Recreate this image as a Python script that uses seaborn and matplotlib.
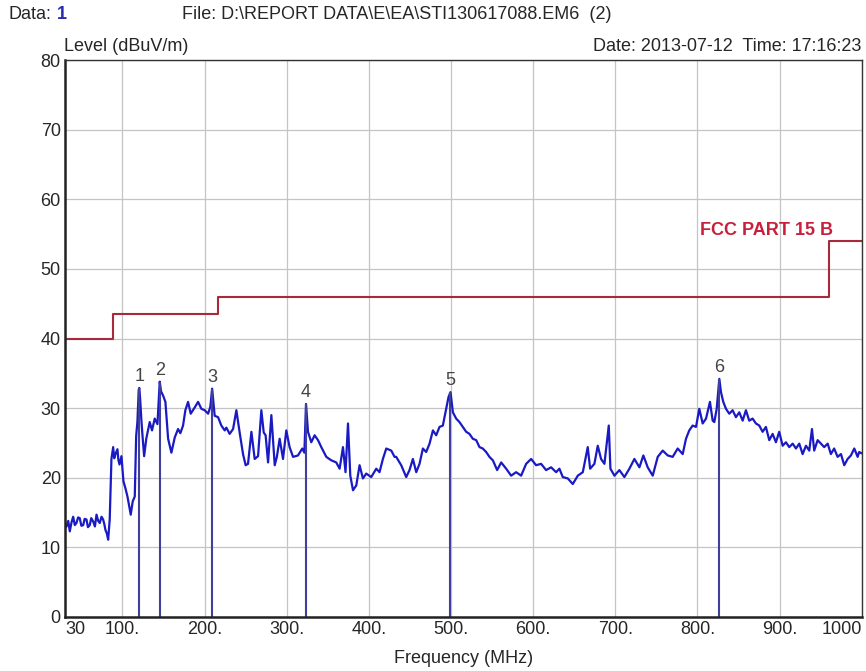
import matplotlib
matplotlib.use("Agg")
import matplotlib.pyplot as plt
import seaborn as sns
import pandas as pd

freq = [30.0, 31.9, 34.0, 35.9, 38.0, 40.0, 42.0, 44.0, 46.0, 48.0, 50.0, 52.2, 54.0, 56.2, 58.0,
        60.2, 62.0, 64.4, 66.5, 68.4, 70.5, 72.4, 74.5, 76.5, 78.0, 79.3, 81.0, 82.6, 84.5,
        86.6, 88.7, 90.0, 91.5, 93.9, 95.0, 96.4, 98.8, 101.2, 103.6, 106.1, 108.5, 110.1,
        112.5, 115.0, 116.7, 118.2, 119.8, 120.5, 121.5, 123.1, 124.7, 126.4, 129.0, 133.2,
        136.0, 139.3, 142.6, 145.4, 147.0, 149.5, 152.3, 155.6, 159.6, 163.7, 167.7, 170.5,
        173.8, 176.6, 179.9, 183.1, 188.0, 192.1, 196.1, 200.1, 204.3, 207.0, 209.2, 212.3,
        216.4, 220.4, 224.5, 226.5, 230.5, 234.7, 238.7, 242.7, 246.8, 250.0, 252.9, 257.0,
        261.0, 265.1, 269.1, 272.0, 274.3, 277.3, 281.3, 285.4, 288.0, 291.4, 295.5, 299.5,
        303.5, 307.7, 313.7, 319.0, 321.5, 323.5, 325.9, 329.9, 334.0, 338.1, 342.1, 348.2,
        354.3, 360.3, 364.4, 368.5, 371.6, 374.6, 377.4, 380.7, 384.7, 388.7, 392.8, 396.8,
        402.9, 409.0, 413.0, 417.1, 421.2, 427.3, 431.3, 433.3, 439.4, 445.5, 449.5, 453.6,
        457.7, 461.7, 465.8, 469.8, 473.9, 478.0, 482.0, 486.0, 490.1, 494.2, 497.0, 499.4,
        502.3, 506.3, 510.3, 514.4, 518.5, 522.5, 526.6, 530.7, 534.7, 538.7, 542.8, 546.8,
        551.0, 556.2, 561.1, 567.2, 573.2, 579.3, 585.4, 591.5, 597.6, 603.6, 609.7, 615.8,
        621.9, 628.0, 632.0, 636.1, 642.2, 648.3, 654.4, 660.5, 666.5, 669.4, 674.6, 678.7,
        682.7, 686.8, 692.1, 694.1, 699.0, 705.0, 711.1, 717.2, 723.3, 729.4, 734.2, 739.5,
        745.6, 751.7, 757.8, 763.9, 769.9, 776.0, 782.1, 786.1, 790.1, 794.2, 798.3, 802.3,
        806.4, 810.5, 815.3, 818.6, 820.6, 823.5, 826.7, 828.7, 831.5, 834.8, 838.8, 842.9,
        846.9, 851.0, 855.1, 859.1, 863.1, 867.2, 871.2, 875.3, 879.4, 883.4, 887.5, 891.6,
        895.6, 899.6, 903.8, 907.8, 911.8, 916.0, 920.0, 924.0, 928.1, 932.2, 936.2, 939.5,
        942.2, 946.4, 950.4, 954.4, 958.6, 962.5, 966.5, 970.7, 974.8, 978.8, 982.9, 986.9,
        991.0, 995.1, 997.0, 1000.0]
level = [12.8, 13.0, 13.8, 12.3, 13.6, 14.4, 13.2, 13.5, 14.3, 14.2, 13.1, 13.2, 14.1, 14.0, 12.9,
         13.2, 14.2, 13.7, 13.0, 14.7, 13.8, 13.5, 14.4, 14.0, 13.3, 12.5, 12.0, 11.1, 14.0,
         22.7, 24.4, 22.8, 23.4, 24.1, 22.6, 21.9, 23.1, 19.5, 18.5, 17.3, 15.7, 14.7,
         16.6, 17.3, 26.0, 28.0, 32.6, 32.9, 31.4, 28.2, 25.6, 23.1, 25.6, 28.0,
         26.8, 28.5, 27.7, 33.8, 32.4, 31.8, 30.9, 25.6, 23.6, 25.8, 27.0, 26.4,
         27.5, 29.7, 30.9, 29.2, 30.1, 30.9, 29.9, 29.7, 29.2, 30.2, 32.8, 28.9,
         28.7, 27.5, 26.8, 27.2, 26.3, 27.0, 29.7, 26.5, 23.4, 21.8, 22.0, 26.6,
         22.7, 23.1, 29.7, 26.5, 26.1, 22.2, 29.0, 21.8, 23.0, 25.6, 22.7, 26.8,
         24.4, 23.0, 23.2, 24.2, 23.6, 30.6, 26.6, 25.1, 26.1, 25.4, 24.4, 23.0,
         22.5, 22.2, 21.3, 24.4, 20.8, 27.8, 20.3, 18.2, 18.9, 21.8, 19.9, 20.6,
         20.1, 21.3, 20.8, 22.7, 24.2, 23.9, 23.0, 23.0, 21.8, 20.1, 21.1, 22.7,
         20.8, 22.0, 24.2, 23.7, 24.9, 26.8, 26.1, 27.3, 27.5, 29.9, 31.6, 32.3,
         29.4, 28.5, 28.0, 27.3, 26.6, 26.3, 25.6, 25.4, 24.4, 24.2, 23.7, 23.0,
         22.5, 21.1, 22.2, 21.3, 20.3, 20.8, 20.3, 22.0, 22.7, 21.8, 22.0, 21.1,
         21.5, 20.8, 21.3, 20.1, 19.9, 19.1, 20.3, 20.8, 24.4, 21.3, 22.0, 24.6,
         22.7, 22.0, 27.5, 21.3, 20.3, 21.1, 20.1, 21.3, 22.7, 21.5, 23.2, 21.5,
         20.3, 23.0, 23.9, 23.2, 23.0, 24.2, 23.4, 25.6, 26.8, 27.5, 27.3, 29.9,
         27.8, 28.5, 30.9, 28.2, 28.0, 29.9, 34.2, 32.3, 30.9, 29.9, 29.2, 29.7,
         28.7, 29.4, 28.2, 29.7, 28.2, 28.5, 27.8, 27.5, 26.6, 27.3, 25.4, 26.3,
         25.1, 26.6, 24.6, 25.1, 24.4, 24.9, 24.2, 24.9, 23.4, 24.6, 23.9, 27.0,
         23.9, 25.4, 24.9, 24.4, 24.9, 23.4, 24.2, 23.0, 23.4, 21.8, 22.7, 23.2,
         24.2, 23.0, 23.7, 23.5]

# FCC part 15 class B limit steps
limit_freq = [30, 88, 216, 960, 1000]
limit_level = [40, 43.5, 46, 54, 54]

# peak markers
marker_id = ["1", "2", "3", "4", "5", "6"]
marker_freq = [120.5, 145.4, 209.2, 323.5, 499.4, 826.7]
marker_level = [32.9, 33.8, 32.8, 30.6, 32.3, 34.2]

xticks = [30, 100, 200, 300, 400, 500, 600, 700, 800, 900, 1000]
xtick_labels = ["30", "100.", "200.", "300.", "400.", "500.", "600.", "700.", "800.", "900.", "1000"]

sns.set_style("white")
plt.rcParams["font.family"] = ["Liberation Sans", "DejaVu Sans"]
fs = 13
txt = "#262626"

fig = plt.figure(figsize=(8.66, 6.71), dpi=100)
ax = fig.add_axes([0.075, 0.0805, 0.920, 0.830])

trace = pd.DataFrame({"freq": freq, "level": level})
limit = pd.DataFrame({"freq": limit_freq, "level": limit_level})

sns.lineplot(data=limit, x="freq", y="level", drawstyle="steps-post", color="#a8283c", lw=1.5, ax=ax)
sns.lineplot(data=trace, x="freq", y="level", color="#1a1ac4", lw=1.6, ax=ax)
ax.vlines(marker_freq, 0, marker_level, color="#40409a", lw=1.5)
for m, f, l in zip(marker_id, marker_freq, marker_level):
    ax.annotate(m, (f, l), xytext=(0, 2), textcoords="offset points",
                ha="center", va="bottom", fontsize=fs, color="#444444")

ax.text(965, 54.3, "FCC PART 15 B", color="#c8203c", fontsize=fs, fontweight="bold",
        ha="right", va="bottom")

ax.set_xlim(30, 1000)
ax.set_ylim(0, 80)
ax.set_xticks(xticks)
ax.set_xticklabels(xtick_labels)
ax.get_xticklabels()[0].set_ha("left")
ax.get_xticklabels()[-1].set_ha("right")
ax.set_yticks(range(0, 81, 10))
ax.tick_params(length=0, labelsize=fs, colors=txt, pad=3)
ax.set_xlabel("")
ax.set_ylabel("")
ax.grid(True, color="#c4c4c4", lw=0.9)
for side in ["left", "bottom"]:
    ax.spines[side].set_color("#222222")
    ax.spines[side].set_linewidth(1.8)
for side in ["top", "right"]:
    ax.spines[side].set_color("#333333")
    ax.spines[side].set_linewidth(1.0)

fig.text(0.010, 0.979, "Data:", fontsize=fs, color=txt, va="center")
fig.text(0.066, 0.979, "1", fontsize=fs, color="#2a2ab0", fontweight="bold", va="center")
fig.text(0.210, 0.979, "File: D:\\REPORT DATA\\E\\EA\\STI130617088.EM6  (2)", fontsize=fs,
         color=txt, va="center")
fig.text(0.074, 0.930, "Level (dBuV/m)", fontsize=fs, color=txt, va="center")
fig.text(0.995, 0.930, "Date: 2013-07-12  Time: 17:16:23", fontsize=fs, color=txt,
         va="center", ha="right")
fig.text(0.535, 0.019, "Frequency (MHz)", fontsize=fs, color=txt, va="center", ha="center")

fig.savefig("out.png", dpi=100, facecolor="white")
